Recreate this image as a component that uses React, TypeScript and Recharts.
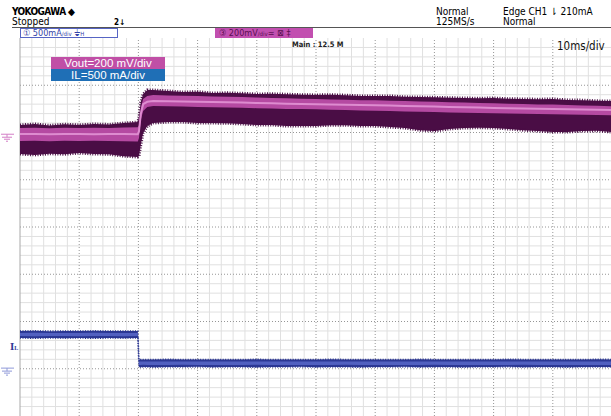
import React from 'react';
import { ComposedChart, Area, Line, XAxis, YAxis, ReferenceLine } from 'recharts';

// time base: 10 ms/div, 10 divisions
const timeMs = [0, 2.5, 5, 7.5, 10, 12.5, 15, 17.5, 19.9, 20.1, 20.4, 20.8, 21.5, 22.5, 25, 27.5, 30, 32.5, 35, 37.5, 40, 42.5, 45, 47.5, 50, 52.5, 55, 57.5, 60, 62.5, 65, 67.5, 70, 72.5, 75, 77.5, 80, 82.5, 85, 87.5, 90, 92.5, 95, 97.5, 100];

// Vout (mV, relative to CH3 ground marker)
const voutHi = [52, 56, 50, 55, 52, 56, 54, 60, 64, 85, 149, 183, 200, 200, 196, 191, 193, 187, 188, 186, 183, 184, 182, 180, 179, 180, 178, 175, 174, 175, 171, 170, 169, 167, 166, 165, 166, 163, 162, 161, 162, 158, 157, 154, 153];
const voutLo = [-71, -75, -70, -72, -67, -71, -72, -80, -84, -80, -33, 18, 47, 60, 64, 64, 60, 60, 59, 56, 52, 52, 47, 47, 48, 51, 51, 47, 47, 43, 39, 30, 26, 35, 39, 40, 39, 35, 30, 26, 22, 22, 26, 27, 22];
const voutBandHi = [39, 40, 38, 40, 39, 40, 39, 41, 42, 51, 123, 162, 174, 179, 177, 176, 174, 172, 171, 170, 168, 166, 165, 163, 162, 160, 159, 157, 156, 154, 153, 151, 150, 148, 147, 145, 144, 142, 141, 139, 138, 136, 134, 133, 131];
const voutBandLo = [-16, -15, -17, -15, -16, -15, -16, -17, -18, -3, 73, 111, 128, 132, 131, 130, 128, 127, 126, 125, 123, 122, 120, 119, 118, 116, 115, 113, 112, 111, 109, 108, 107, 105, 104, 103, 101, 100, 99, 98, 97, 96, 95, 94, 93];
const voutMid = [14, 14, 13, 14, 14, 13, 14, 14, 13, 25, 98, 140, 150, 153, 152, 151, 150, 149, 148, 147, 145, 144, 142, 141, 140, 139, 137, 136, 135, 134, 132, 131, 130, 128, 127, 126, 124, 123, 122, 121, 119, 118, 117, 116, 115];

// IL (mA, relative to CH1 ground marker)
const ilHi = [424, 426, 423, 425, 424, 426, 424, 425, 424, 123, 124, 122, 124, 123, 125, 123, 124, 122, 124, 123, 125, 123, 124, 122, 123, 125, 124, 123, 122, 124, 123, 125, 124, 123, 122, 124, 123, 125, 124, 123, 124, 122, 123, 125, 124];
const ilLo = [350, 348, 351, 349, 350, 347, 350, 349, 350, 45, 42, 44, 43, 41, 44, 43, 45, 42, 44, 43, 41, 44, 43, 45, 42, 44, 43, 41, 44, 43, 45, 42, 44, 43, 41, 44, 43, 45, 42, 44, 43, 41, 44, 43, 44];
const ilBandHi = [404, 405, 403, 404, 404, 405, 403, 404, 404, 102, 103, 101, 102, 102, 103, 101, 102, 101, 102, 102, 103, 101, 102, 101, 102, 103, 102, 101, 101, 102, 102, 103, 102, 101, 101, 102, 102, 103, 102, 101, 102, 101, 102, 103, 102];
const ilBandLo = [371, 370, 372, 371, 370, 371, 372, 370, 371, 66, 65, 67, 66, 65, 66, 67, 65, 66, 66, 65, 67, 66, 65, 66, 66, 65, 67, 66, 65, 66, 66, 65, 67, 66, 65, 66, 66, 65, 67, 66, 65, 66, 66, 65, 66];

const VOLT_PER_DIV = 200;
const AMP_PER_DIV = 500;
const V_GROUND_DIV = 1.9;
const I_GROUND_DIV = -3.05;

const data = timeMs.map((t, i) => ({
  t,
  v: [voutLo[i], voutHi[i]],
  vb: [voutBandLo[i], voutBandHi[i]],
  vm: voutMid[i],
  il: [ilLo[i], ilHi[i]],
  ilb: [ilBandLo[i], ilBandHi[i]],
}));

// screen graticule, in divisions
const majorX = [10, 20, 30, 40, 50, 60, 70, 80, 90];
const minorX = Array.from({ length: 49 }, (_, i) => (i + 1) * 2).filter((x) => x % 10 !== 0);
const majorY = [-3, -2, -1, 0, 1, 2, 3];
const minorY = Array.from({ length: 39 }, (_, i) => Math.round((-3.8 + i * 0.2) * 10) / 10).filter(
  (y) => Math.abs(y - Math.round(y)) > 0.01
);
// grid rows drawn on the Vout axis
const divToMv = (d: number) => (d - V_GROUND_DIV) * VOLT_PER_DIV;

const vDomain = [(-4 - V_GROUND_DIV) * VOLT_PER_DIV, (4 - V_GROUND_DIV) * VOLT_PER_DIV];
const iDomain = [(-4 - I_GROUND_DIV) * AMP_PER_DIV, (4 - I_GROUND_DIV) * AMP_PER_DIV];
const chartMargin = { top: 38, left: 20, right: -1, bottom: 0 };

const narrow = "'Liberation Sans Narrow', 'DejaVu Sans Condensed', 'Liberation Sans', sans-serif";

function GroundMark({ viewBox, color }: any) {
  const y = viewBox.y;
  return (
    <g stroke={color} strokeWidth={1}>
      <line x1={1} x2={14} y1={y - 3} y2={y - 3} />
      <line x1={7} x2={7} y1={y - 3} y2={y} />
      <line x1={2} x2={12} y1={y} y2={y} />
      <line x1={4} x2={10} y1={y + 2} y2={y + 2} />
      <line x1={6} x2={8} y1={y + 4} y2={y + 4} />
    </g>
  );
}

function Graticule() {
  return (
    <ComposedChart width={611} height={416} data={data} margin={chartMargin}>
      <XAxis dataKey="t" type="number" domain={[0, 100]} hide allowDataOverflow />
      <YAxis yAxisId="v" type="number" domain={vDomain} hide allowDataOverflow />
      {minorX.map((x) => (
        <ReferenceLine key={'mx' + x} x={x} yAxisId="v" stroke="#e0e0e0" strokeWidth={1} />
      ))}
      {minorY.map((y) => (
        <ReferenceLine key={'my' + y} y={divToMv(y)} yAxisId="v" stroke="#e0e0e0" strokeWidth={1} />
      ))}
      {majorX.map((x) => (
        <ReferenceLine key={'Mx' + x} x={x} yAxisId="v" stroke="#969696" strokeDasharray="1 2" />
      ))}
      {majorY.map((y) => (
        <ReferenceLine key={'My' + y} y={divToMv(y)} yAxisId="v" stroke="#969696" strokeDasharray="1 2" />
      ))}
      <ReferenceLine x={0} yAxisId="v" stroke="#a8a8a8" />
    </ComposedChart>
  );
}

function Traces() {
  return (
    <ComposedChart width={611} height={416} data={data} margin={chartMargin}>
      <XAxis dataKey="t" type="number" domain={[0, 100]} hide allowDataOverflow />
      <YAxis yAxisId="v" type="number" domain={vDomain} hide allowDataOverflow />
      <YAxis yAxisId="i" type="number" domain={iDomain} hide allowDataOverflow />

      <Area yAxisId="v" type="linear" dataKey="v" stroke="#4a0d45" strokeWidth={3} strokeDasharray="1 1.5" fill="#4a0d45" fillOpacity={1} isAnimationActive={false} activeDot={false} />
      <Area yAxisId="v" type="linear" dataKey="vb" stroke="none" fill="#b54aa2" fillOpacity={1} isAnimationActive={false} activeDot={false} />
      <Line yAxisId="v" type="linear" dataKey="vm" stroke="#de8cd0" strokeWidth={2} dot={false} activeDot={false} isAnimationActive={false} />

      <Area yAxisId="i" type="linear" dataKey="il" stroke="#27328c" strokeWidth={1.5} strokeDasharray="1 1.5" fill="#2c3894" fillOpacity={1} isAnimationActive={false} activeDot={false} />
      <Area yAxisId="i" type="linear" dataKey="ilb" stroke="none" fill="#5160c0" fillOpacity={1} isAnimationActive={false} activeDot={false} />

      <ReferenceLine y={0} yAxisId="v" strokeOpacity={0} label={(p: any) => <GroundMark {...p} color="#d37fc6" />} />
      <ReferenceLine y={0} yAxisId="i" strokeOpacity={0} label={(p: any) => <GroundMark {...p} color="#8e98d8" />} />
    </ComposedChart>
  );
}

export default function App() {
  return (
    <div style={{ position: 'relative', width: 611, height: 416, background: '#fff', overflow: 'hidden', fontFamily: narrow }}>
      <style>{'body{margin:0}'}</style>
      <div style={{ position: 'absolute', left: 0, top: 0 }}>
        <Graticule />
      </div>
      <div style={{ position: 'absolute', left: 0, top: 0 }}>
        <Traces />
      </div>

      {/* header */}
      <div style={{ position: 'absolute', left: 12, top: 7, fontSize: 10, lineHeight: '10px', fontWeight: 700, letterSpacing: -0.6, color: '#000' }}>YOKOGAWA ◆</div>
      <div style={{ position: 'absolute', left: 12, top: 17, fontSize: 10, lineHeight: '10px', color: '#000' }}>Stopped</div>
      <div style={{ position: 'absolute', left: 114, top: 18, fontSize: 8, lineHeight: '9px', fontWeight: 700, color: '#000' }}>2↓</div>
      <div style={{ position: 'absolute', left: 436, top: 7, fontSize: 10, color: '#000', lineHeight: '10px' }}>Normal</div>
      <div style={{ position: 'absolute', left: 436, top: 17, fontSize: 10, color: '#000', lineHeight: '10px' }}>125MS/s</div>
      <div style={{ position: 'absolute', left: 503, top: 7, fontSize: 10, color: '#000', lineHeight: '10px' }}>Edge CH1 ⇂ 210mA</div>
      <div style={{ position: 'absolute', left: 503, top: 17, fontSize: 10, color: '#000', lineHeight: '10px' }}>Normal</div>
      <div style={{ position: 'absolute', left: 12, top: 27, width: 599, height: 1, background: '#555' }} />

      {/* channel boxes */}
      <div style={{ position: 'absolute', left: 20, top: 28, width: 98, height: 10, border: '1px solid #5664c4', boxSizing: 'border-box', background: '#fff', color: '#3443a8', fontSize: 9, lineHeight: '8px', whiteSpace: 'nowrap', paddingLeft: 2 }}>
        ① 500mA<span style={{ fontSize: 6 }}>/div</span> ⏚<span style={{ fontSize: 6 }}>H</span>
      </div>
      <div style={{ position: 'absolute', left: 215, top: 28, width: 98, height: 10, background: '#c24fb0', color: '#5a1050', fontSize: 9, lineHeight: '10px', whiteSpace: 'nowrap', paddingLeft: 4, boxSizing: 'border-box' }}>
        ③ 200mV<span style={{ fontSize: 6 }}>/div</span>≃ ⊠ ‡
      </div>

      <div style={{ position: 'absolute', left: 292, top: 41, fontSize: 7.5, lineHeight: '8px', fontWeight: 700, color: '#222' }}>Main : 12.5 M</div>
      <div style={{ position: 'absolute', left: 557, top: 40, fontSize: 11.5, lineHeight: '12px', color: '#111' }}>10ms/div</div>

      {/* legend */}
      <div style={{ position: 'absolute', left: 51, top: 57, width: 114, height: 12, background: '#c04fa6', color: '#fff', fontFamily: "'Liberation Sans', Arial, sans-serif", fontSize: 11.5, lineHeight: '12px', textAlign: 'center' }}>Vout=200 mV/div</div>
      <div style={{ position: 'absolute', left: 51, top: 69, width: 114, height: 12, background: '#1f6fb6', color: '#fff', fontFamily: "'Liberation Sans', Arial, sans-serif", fontSize: 11.5, lineHeight: '12px', textAlign: 'center' }}>IL=500 mA/div</div>

      <div style={{ position: 'absolute', left: 10, top: 340, fontSize: 11, fontWeight: 700, color: '#2c3894', fontFamily: "'Liberation Serif', serif" }}>
        I<span style={{ fontSize: 6 }}>L</span>
      </div>
    </div>
  );
}
